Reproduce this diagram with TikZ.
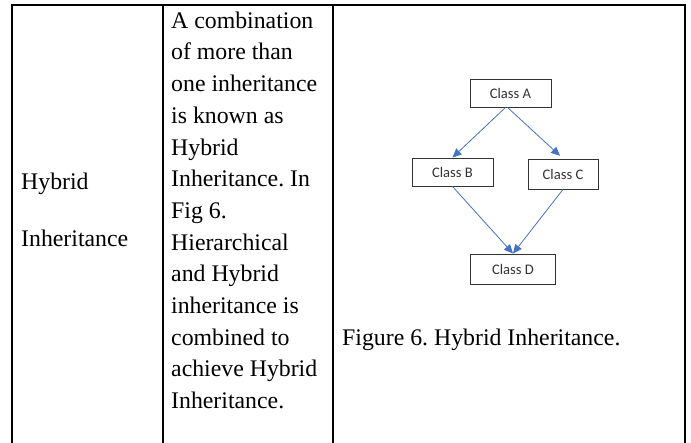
\documentclass[tikz,border=0pt]{standalone}
\usepackage{fontspec}
\setmainfont{Liberation Serif}
\newfontfamily\boxfont{Carlito}
\usetikzlibrary{arrows.meta}
\definecolor{arrowblue}{HTML}{4472C4}
\definecolor{boxgray}{HTML}{333333}
\tikzset{
  cellline/.style={line width=2pt, black},
  txt/.style={anchor=base west, inner sep=0pt, font=\fontsize{23.8}{31.7}\selectfont},
  classbox/.style={draw=boxgray, line width=0.9pt, minimum height=28pt, inner sep=0pt,
    font=\boxfont\fontsize{14.6}{16}\selectfont, text=boxgray},
  inh/.style={draw=arrowblue, line width=0.8pt, -{Triangle[length=9pt,width=8pt]}, arrowblue}
}
\begin{document}
\frenchspacing
\begin{tikzpicture}[x=1pt,y=-1pt]
\useasboundingbox (0,0) rectangle (691,443);
% table
\draw[cellline] (12,443) -- (12,5) -- (685,5) -- (685,443);
\draw[cellline] (163,5) -- (163,443);
\draw[cellline] (333,5) -- (333,443);
% first column
\node[txt] (h1) at (21,190) {Hybrid};
\node[txt] (h2) at (21,246.7) {Inheritance};
% second column
\foreach \i/\t in {0/A combination, 1/of more than, 2/one inheritance, 3/is known as,
  4/Hybrid, 5/Inheritance. In, 6/Fig 6., 7/Hierarchical, 8/and Hybrid,
  9/inheritance is, 10/combined to, 11/achieve Hybrid, 12/Inheritance.}
  \node[txt] (d\i) at (171,28.3+31.7*\i) {\t};
% third column caption
\node[txt] (cap) at (342,345.3) {Figure 6. Hybrid Inheritance.};
% diagram
\node[classbox, minimum width=81pt, minimum height=28pt] (A) at (510.5,93) {Class A};
\node[classbox, minimum width=81pt, minimum height=28pt] (B) at (452.5,172) {Class B};
\node[classbox, minimum width=70pt, minimum height=30pt] (C) at (563,174) {Class C};
\node[classbox, minimum width=85pt, minimum height=30pt] (D) at (513,269) {Class D};
\draw[inh] ([xshift=-5pt]A.south) -- (B.north);
\draw[inh, shorten >=4pt] ([xshift=-3pt]A.south) -- (C.north);
\draw[inh] (B.south) -- (D.north);
\draw[inh] (C.south) -- (D.north);
\end{tikzpicture}
\end{document}
